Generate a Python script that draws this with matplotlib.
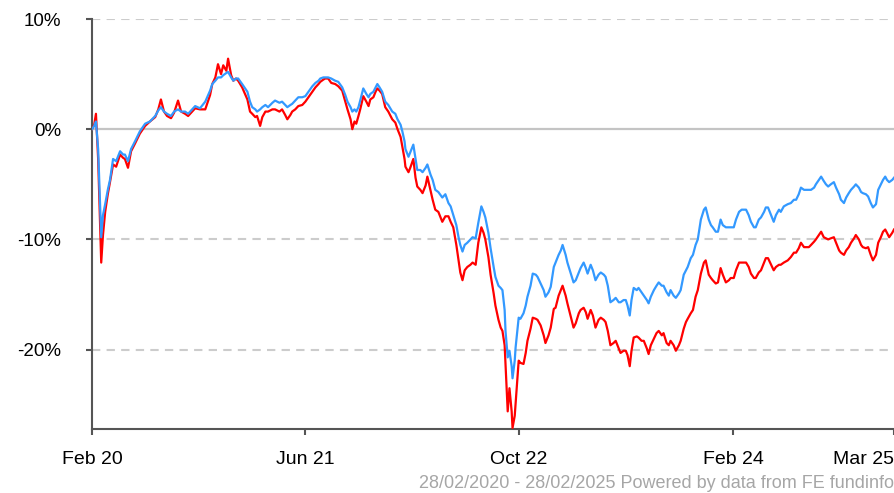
import matplotlib
matplotlib.use("Agg")
import matplotlib.pyplot as plt
import pandas as pd

plt.rcParams['font.family'] = ['Liberation Sans', 'DejaVu Sans']

# days after 28/02/2020 at which the two lines were read
days = [0, 5, 9, 14, 21, 25, 30, 36, 41, 48, 55, 64, 71, 75, 82, 89, 98, 109, 121, 132,
        144, 151, 157, 164, 171, 180, 187, 196, 203, 212, 219, 228, 235, 246, 258, 269, 274, 281, 287, 294,
        299, 306, 310, 317, 322, 328, 333, 342, 354, 360, 365, 372, 376, 383, 388, 395, 401, 411, 417, 427,
        433, 440, 445, 452, 456, 463, 470, 479, 486, 493, 502, 509, 516, 520, 527, 531, 538, 545, 554, 561,
        570, 577, 582, 589, 593, 598, 602, 607, 611, 618, 625, 630, 634, 641, 646, 650, 655, 661, 668, 675,
        684, 691, 696, 703, 707, 712, 714, 721, 725, 732, 737, 741, 748, 753, 760, 764, 771, 776, 782, 789,
        798, 805, 812, 817, 823, 830, 835, 839, 844, 849, 855, 862, 867, 874, 880, 887, 892, 896, 903, 908,
        915, 919, 926, 931, 935, 940, 942, 947, 951, 956, 958, 963, 965, 969, 972, 976, 983, 988, 992, 999,
        1004, 1011, 1015, 1022, 1029, 1033, 1040, 1045, 1052, 1056, 1063, 1068, 1072, 1079, 1083, 1090, 1097, 1102, 1109, 1113,
        1120, 1125, 1129, 1136, 1141, 1147, 1154, 1159, 1166, 1170, 1175, 1181, 1188, 1193, 1200, 1204, 1211, 1216, 1220, 1225,
        1229, 1234, 1241, 1245, 1252, 1257, 1264, 1268, 1273, 1280, 1286, 1291, 1298, 1302, 1309, 1314, 1318, 1325, 1330, 1337,
        1341, 1348, 1353, 1357, 1364, 1369, 1375, 1380, 1387, 1394, 1398, 1405, 1410, 1414, 1421, 1426, 1432, 1437, 1444, 1451,
        1455, 1462, 1467, 1474, 1480, 1490, 1496, 1501, 1508, 1512, 1519, 1524, 1531, 1535, 1540, 1547, 1553, 1558, 1565, 1569,
        1576, 1585, 1592, 1599, 1604, 1610, 1615, 1622, 1626, 1633, 1638, 1645, 1649, 1656, 1661, 1667, 1672, 1677, 1683, 1690,
        1695, 1702, 1706, 1713, 1718, 1724, 1729, 1736, 1740, 1747, 1752, 1756, 1763, 1768, 1774, 1779, 1786, 1791, 1797, 1802,
        1807, 1811, 1816, 1823, 1827]

# cumulative performance, % (blue line)
blue = [0.0, 0.3, 0.7, -1.8, -9.8, -7.8, -6.8, -5.5, -4.6, -2.7, -2.9, -2.0, -2.3, -2.3, -2.9, -1.8, -1.1, -0.2, 0.5, 0.7,
        1.2, 1.7, 2.0, 1.6, 1.4, 1.2, 1.6, 1.8, 1.6, 1.6, 1.4, 1.8, 2.1, 1.9, 2.5, 3.5, 4.1, 4.4, 4.7, 4.7,
        4.9, 5.1, 5.2, 4.7, 4.4, 4.6, 4.6, 4.1, 3.4, 2.5, 2.0, 1.8, 1.6, 1.8, 2.0, 2.2, 2.0, 2.4, 2.6, 2.4,
        2.5, 2.2, 2.0, 2.2, 2.3, 2.6, 2.9, 2.9, 3.0, 3.4, 3.9, 4.2, 4.4, 4.6, 4.7, 4.7, 4.7, 4.6, 4.4, 4.3,
        3.8, 3.1, 2.5, 2.0, 1.6, 1.8, 1.6, 2.0, 2.6, 3.7, 3.2, 2.9, 3.2, 3.4, 3.8, 4.1, 3.8, 3.4, 2.5, 2.2,
        1.6, 1.4, 0.9, 0.4, -0.2, -1.1, -1.8, -2.5, -2.1, -1.4, -2.7, -3.7, -3.7, -3.9, -3.5, -3.2, -4.1, -4.6, -5.5, -5.7,
        -6.2, -5.9, -6.7, -7.0, -7.8, -8.7, -9.8, -10.5, -11.1, -10.5, -10.3, -10.0, -9.8, -9.9, -8.5, -7.0, -7.5, -8.0, -9.4, -10.8,
        -12.5, -13.4, -14.2, -14.4, -14.6, -16.4, -18.3, -20.7, -20.1, -21.5, -22.6, -21.0, -19.8, -18.3, -17.1, -17.2, -16.7, -16.0, -15.2, -14.2,
        -13.1, -13.2, -13.4, -14.0, -14.6, -15.2, -14.8, -14.3, -12.5, -12.1, -11.4, -11.0, -10.5, -11.4, -12.1, -13.0, -13.9, -13.7, -13.0, -12.6,
        -12.1, -12.6, -13.1, -12.3, -12.8, -13.7, -13.2, -13.0, -13.2, -13.4, -14.2, -15.7, -15.5, -15.3, -15.7, -15.7, -15.5, -15.5, -16.0, -16.9,
        -15.5, -14.4, -14.6, -14.4, -14.8, -15.1, -15.5, -15.8, -15.2, -14.6, -14.2, -13.9, -14.2, -14.2, -14.8, -15.1, -14.6, -15.1, -15.3, -14.9,
        -14.6, -13.2, -12.8, -12.5, -11.7, -11.4, -10.5, -10.0, -8.2, -7.3, -7.1, -8.2, -8.7, -8.9, -9.3, -9.3, -8.2, -8.7, -8.9, -8.9,
        -8.9, -8.9, -8.2, -7.5, -7.3, -7.3, -7.8, -8.4, -8.9, -8.9, -8.2, -8.0, -7.5, -7.1, -7.1, -7.8, -8.4, -7.8, -7.3, -7.5,
        -7.0, -6.8, -6.7, -6.4, -6.4, -5.9, -5.3, -5.5, -5.5, -5.5, -5.5, -5.3, -5.0, -4.6, -4.3, -4.7, -5.0, -5.2, -5.0, -4.8,
        -5.3, -5.9, -6.4, -6.7, -6.2, -5.8, -5.5, -5.2, -5.0, -5.3, -5.7, -5.8, -5.9, -6.1, -6.7, -7.1, -6.8, -5.5, -5.0, -4.6,
        -4.3, -4.6, -4.8, -4.6, -4.4]

# cumulative performance, % (red line)
red = [0.0, 0.4, 1.4, -2.7, -12.1, -9.6, -7.5, -5.9, -4.8, -3.2, -3.4, -2.3, -2.6, -2.7, -3.5, -2.0, -1.3, -0.4, 0.3, 0.7,
       1.1, 1.8, 2.7, 1.6, 1.2, 1.0, 1.5, 2.6, 1.6, 1.4, 1.2, 1.6, 1.9, 1.8, 1.8, 3.1, 4.1, 4.7, 5.9, 5.0,
       5.8, 5.3, 6.4, 4.9, 4.4, 4.6, 4.4, 3.8, 2.7, 1.6, 1.4, 1.1, 1.2, 0.3, 1.1, 1.6, 1.6, 1.8, 1.8, 1.6,
       1.8, 1.3, 0.9, 1.3, 1.6, 1.8, 2.1, 2.2, 2.5, 2.9, 3.4, 3.8, 4.1, 4.3, 4.5, 4.6, 4.6, 4.2, 4.1, 3.9,
       3.5, 2.5, 1.8, 0.9, 0.0, 0.7, 0.5, 1.2, 1.8, 3.0, 2.5, 2.1, 2.7, 2.9, 3.4, 3.7, 3.5, 3.2, 2.0, 1.6,
       0.9, 0.6, 0.0, -0.7, -1.6, -2.7, -3.4, -3.9, -3.5, -2.7, -4.4, -5.2, -5.5, -5.8, -5.1, -4.3, -5.5, -6.4, -7.3, -7.5,
       -8.4, -7.9, -7.9, -8.4, -8.9, -10.5, -11.9, -13.0, -13.7, -12.8, -12.5, -12.3, -12.1, -12.3, -10.3, -8.9, -9.4, -10.0, -11.6, -13.2,
       -14.9, -16.0, -17.3, -18.0, -18.3, -19.6, -21.3, -25.6, -23.5, -25.6, -27.1, -26.0, -24.9, -22.8, -21.0, -21.2, -21.3, -20.3, -19.2, -18.1,
       -17.1, -17.2, -17.3, -17.8, -18.7, -19.4, -18.7, -18.0, -16.3, -16.2, -15.1, -14.6, -14.2, -15.1, -15.8, -16.9, -18.0, -17.6, -16.7, -16.4,
       -16.2, -16.6, -17.2, -16.4, -16.9, -18.0, -17.3, -17.1, -17.3, -17.5, -18.3, -19.6, -19.4, -19.2, -19.9, -20.3, -20.1, -20.1, -20.5, -21.5,
       -20.1, -18.9, -18.8, -18.9, -19.2, -19.2, -19.9, -20.4, -19.6, -19.0, -18.5, -18.3, -18.7, -18.5, -19.4, -19.6, -19.2, -19.6, -20.1, -19.6,
       -19.2, -18.1, -17.5, -17.2, -16.7, -16.4, -15.2, -14.6, -13.1, -12.1, -11.9, -13.2, -13.5, -13.7, -14.0, -13.9, -12.6, -13.2, -13.9, -13.7,
       -13.5, -13.5, -12.8, -12.1, -12.1, -12.1, -12.5, -13.1, -13.5, -13.5, -13.0, -12.8, -12.1, -11.7, -11.7, -12.3, -12.8, -12.5, -12.3, -12.3,
       -12.1, -11.9, -11.6, -11.2, -11.2, -10.8, -10.3, -10.7, -10.7, -10.7, -10.5, -10.2, -10.0, -9.6, -9.3, -9.8, -9.9, -10.0, -9.9, -9.8,
       -10.3, -11.0, -11.2, -11.4, -11.0, -10.7, -10.3, -9.9, -9.6, -10.0, -10.5, -10.7, -10.8, -10.7, -11.4, -11.9, -11.4, -10.3, -9.8, -9.3,
       -9.1, -9.4, -9.8, -9.4, -9.1]

start = pd.Timestamp('2020-02-28')
end = pd.Timestamp('2025-02-28')
tick_dates = ['2020-02-28', '2021-06-28', '2022-10-28', '2024-02-28', '2025-02-28']
tick_labels = ['Feb 20', 'Jun 21', 'Oct 22', 'Feb 24', 'Mar 25']
y_ticks = [10, 0, -10, -20]
y_labels = ['10%', '0%', '-10%', '-20%']

dates = start + pd.to_timedelta(days, unit='D')

fig = plt.figure(figsize=(8.94, 4.93), dpi=100)
ax = fig.add_axes([92 / 894, 64 / 493, 802 / 894, 410 / 493])

# gridlines first so the lines sit on top
for v in [10, -10, -20]:
    ax.axhline(v, color='#cccccc', lw=1.5, ls=(0, (4, 3)), zorder=1)
ax.axhline(0, color='#c4c4c4', lw=1.6, zorder=1)

ax.plot(dates, red, color='#ff0000', lw=1.6, zorder=3)
ax.plot(dates, blue, color='#3399ff', lw=1.6, zorder=4)

ax.set_xlim(start, end)
ax.set_ylim(-27.2, 10)

ax.set_yticks(y_ticks)
ax.set_yticklabels(y_labels)
ax.set_xticks(pd.to_datetime(tick_dates))
ax.set_xticklabels(tick_labels)
ax.get_xticklabels()[-1].set_ha('right')

for s in ['top', 'right']:
    ax.spines[s].set_visible(False)
for s in ['left', 'bottom']:
    ax.spines[s].set_color('#555555')
    ax.spines[s].set_linewidth(1.5)

ax.tick_params(axis='both', direction='out', length=4, width=1.5, color='#555555',
               labelcolor='black')
ax.tick_params(axis='y', pad=18, labelsize=13.5)
ax.tick_params(axis='x', pad=12, labelsize=14)

fig.text(1.0, 1 - 483 / 493, '28/02/2020 - 28/02/2025 Powered by data from FE fundinfo',
         ha='right', va='center', fontsize=13, color='#a6a6a6')

fig.savefig('out.png', dpi=100)
